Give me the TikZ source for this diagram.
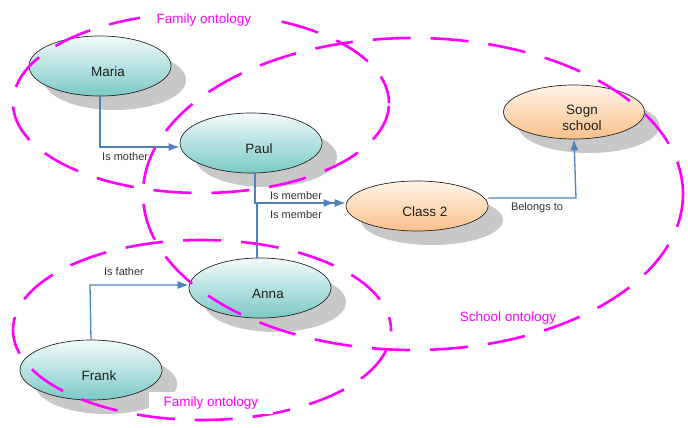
\documentclass[tikz,border=0pt]{standalone}
\usepackage{fontspec}
\setmainfont{Liberation Sans}
\usetikzlibrary{arrows.meta,shadows,shapes.geometric}
\definecolor{linkblue}{RGB}{79,129,189}
\definecolor{tealtop}{RGB}{242,251,251}
\definecolor{tealbot}{RGB}{122,201,199}
\definecolor{orgtop}{RGB}{255,244,232}
\definecolor{orgbot}{RGB}{250,192,138}
\definecolor{shadowgray}{RGB}{200,200,200}
\definecolor{ontomag}{RGB}{255,0,255}
\definecolor{txtdark}{RGB}{30,30,30}
\newcommand{\nodetxt}[1]{\raisebox{-7pt}[\height][\depth]{\hspace*{16pt}\begin{tabular}{@{}c@{}}#1\end{tabular}}}
\tikzset{
  concept/.style={ellipse, draw=black!85, line width=0.7pt, inner sep=0pt,
    minimum width=142pt, minimum height=60pt, text=txtdark, font=\fontsize{13.5}{16}\selectfont,
    align=center,
    drop shadow={shadow xshift=15pt, shadow yshift=-14pt, opacity=1, fill=shadowgray, draw=none}},
  person/.style={concept, top color=tealtop, bottom color=tealbot},
  school/.style={concept, top color=orgtop, bottom color=orgbot},
  link/.style={draw=linkblue, line width=1.3pt, -{Latex[length=11pt,width=8pt]}},
  linklabel/.style={font=\fontsize{11}{12}\selectfont, text=black!80, inner sep=1pt},
  onto/.style={draw=ontomag, line width=2.6pt, dash pattern=on 38pt off 20pt},
  ontolabel/.style={font=\fontsize{13.5}{14}\selectfont, text=ontomag, inner sep=1pt},
  ontomask/.style={ontolabel, fill=white, inner ysep=5pt},
}
\begin{document}
\begin{tikzpicture}[x=1pt,y=-1pt]
\useasboundingbox (0,0) rectangle (688,428);
% concept nodes
\node[person] (maria) at (100,66) {\nodetxt{Maria}};
\node[person] (paul) at (251,143) {\nodetxt{Paul}};
\node[person] (anna) at (260,288) {\nodetxt{Anna}};
\node[person] (frank) at (91,370) {\nodetxt{Frank}};
\node[school, minimum height=50pt] (class) at (417,206) {\nodetxt{Class 2}};
\node[school, minimum height=54pt, minimum width=141pt] (sogn) at (574,112) {\nodetxt{Sogn\\school}};
% connectors
\coordinate (mcorner) at (100,147);
\draw[link] (maria.south) -- (mcorner) -- (mcorner -| paul.west);
\node[linklabel, anchor=west] (lmother) at (101,157) {Is mother};
\coordinate (fcorner) at (90,285);
\draw[link] (frank.north) -- (fcorner) -- (fcorner -| anna.west);
\node[linklabel] (lfather) at (124,272) {Is father};
\coordinate (ptop) at (255,173);
\coordinate (pcorner) at (255,203);
\coordinate (atop) at (257,258);
\coordinate (acorner) at (257,203);
\draw[link] (ptop) -- (pcorner) -- (pcorner -| class.west);
\draw[link, shorten >=11pt] (atop) -- (acorner) -- (acorner -| class.west);
\node[linklabel] (lmem1) at (296,196) {Is member};
\node[linklabel] (lmem2) at (296,215) {Is member};
\coordinate (ccorner) at (576,198);
\draw[link] (ccorner -| class.east) -- (ccorner) -- (sogn.south);
\node[linklabel] (lbelong) at (537,208) {Belongs to};
% ontology regions
\draw[onto, dash phase=10pt] (201,103) ellipse [x radius=188pt, y radius=90pt];
\draw[onto, dash phase=25pt] (202,330) ellipse [x radius=189pt, y radius=90pt];
\draw[onto, dash phase=5pt] (413,194) ellipse [x radius=270pt, y radius=156pt];
\node[ontomask, inner xsep=17pt] (ftop) at (204,20) {Family ontology};
\node[ontomask, inner xsep=15pt] (fbot) at (211,403) {Family ontology};
\node[ontolabel] (school) at (508,318) {School ontology};
\end{tikzpicture}
\end{document}
